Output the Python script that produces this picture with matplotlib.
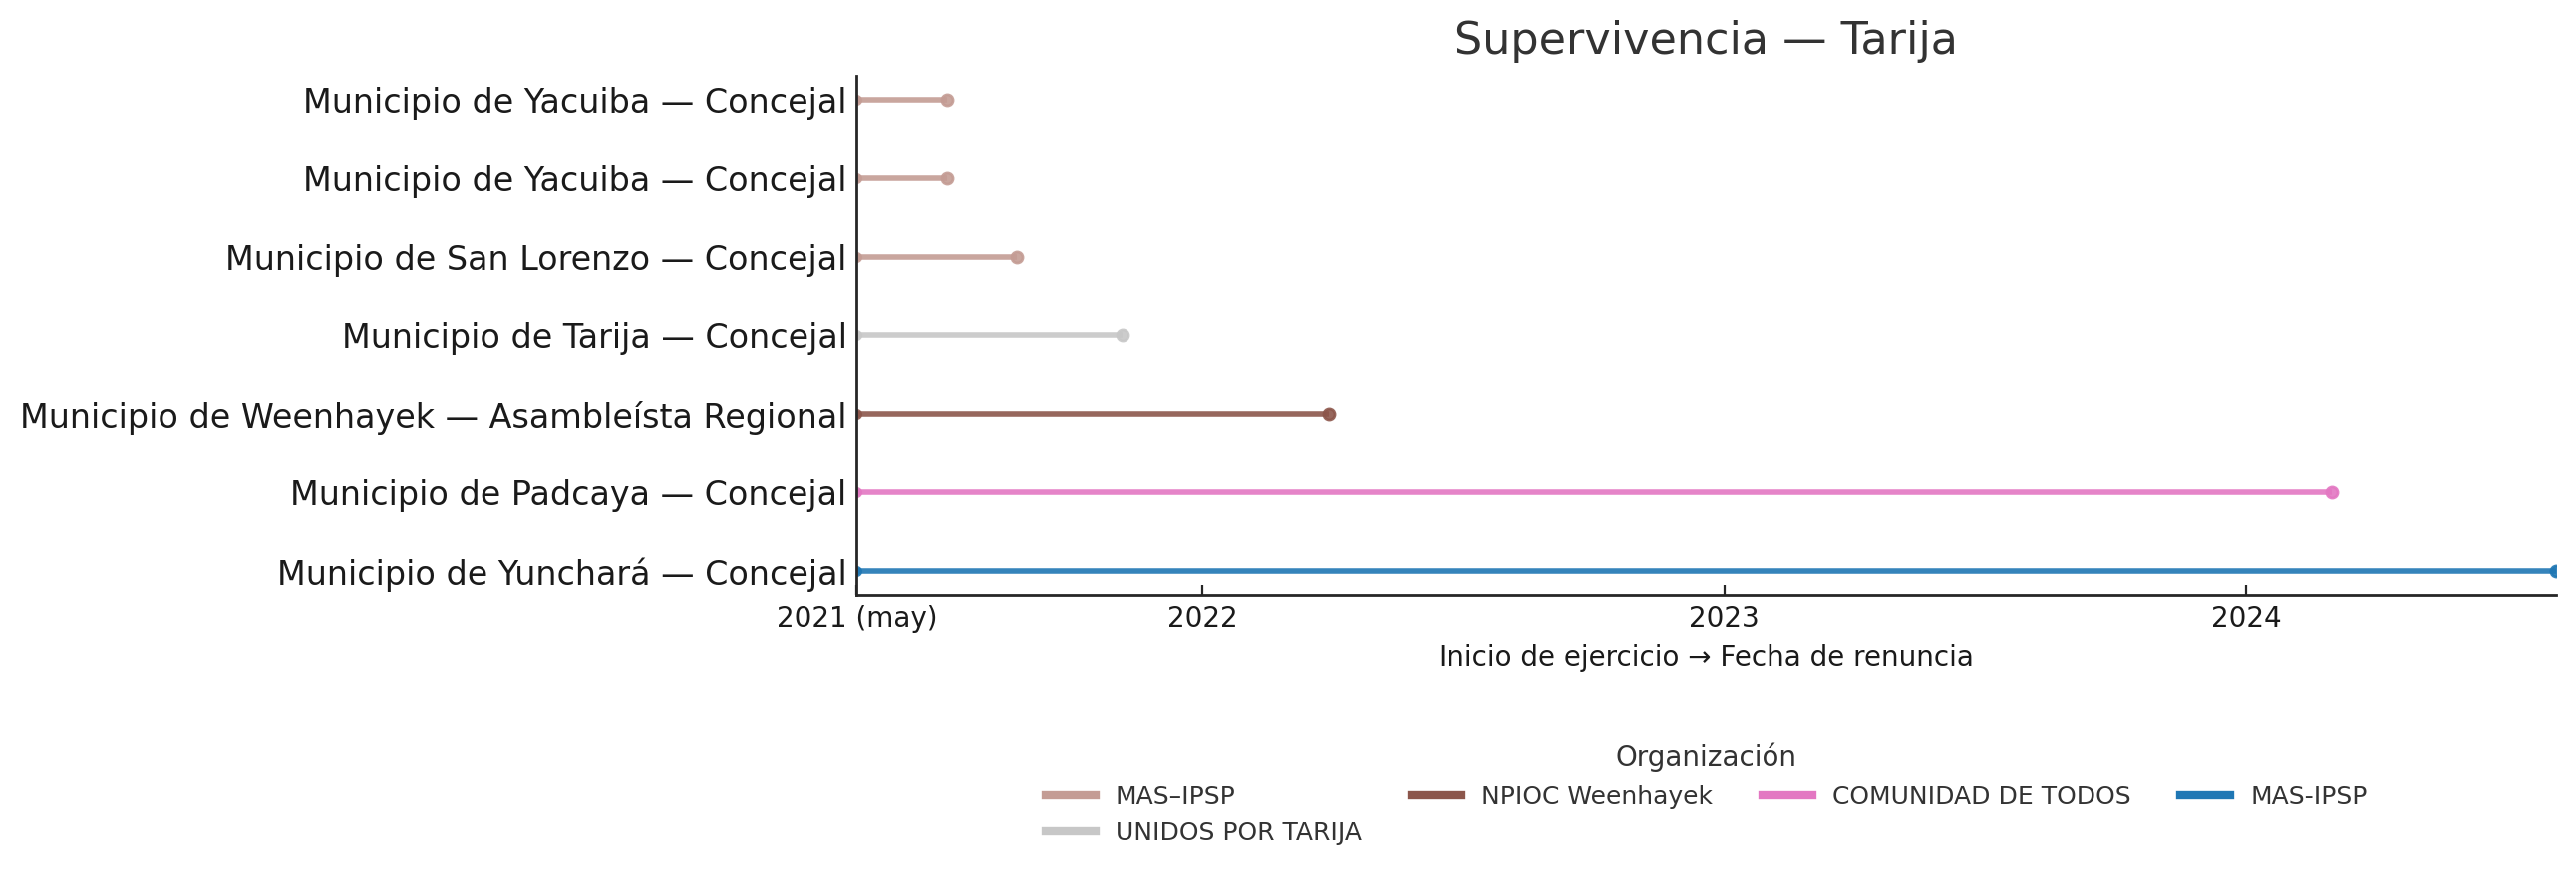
import matplotlib
matplotlib.use("Agg")
import matplotlib.pyplot as plt
from matplotlib.lines import Line2D
import pandas as pd

# filas de arriba hacia abajo
cargos = ["Municipio de Yacuiba — Concejal",
          "Municipio de Yacuiba — Concejal",
          "Municipio de San Lorenzo — Concejal",
          "Municipio de Tarija — Concejal",
          "Municipio de Weenhayek — Asambleísta Regional",
          "Municipio de Padcaya — Concejal",
          "Municipio de Yunchará — Concejal"]
organizaciones = ["MAS–IPSP", "MAS–IPSP", "MAS–IPSP", "UNIDOS POR TARIJA",
                  "NPIOC Weenhayek", "COMUNIDAD DE TODOS", "MAS-IPSP"]
inicio = ["2021-05-04"] * 7
renuncia = ["2021-07-06", "2021-07-06", "2021-08-24", "2021-11-06",
            "2022-03-30", "2024-03-01", "2024-08-05"]

COLORS = {
    "MAS–IPSP": "#c49c94",
    "UNIDOS POR TARIJA": "#c7c7c7",
    "NPIOC Weenhayek": "#8c564b",
    "COMUNIDAD DE TODOS": "#e377c2",
    "MAS-IPSP": "#1f77b4",
}

TEXT = "#262626"

if __name__ == '__main__':
    starts = pd.to_datetime(inicio)
    ends = pd.to_datetime(renuncia)
    n = len(cargos)

    fig = plt.figure(figsize=(12.92, 4.385), dpi=200)
    ax = fig.add_axes([859.3 / 2584, 1 - 597 / 877, (2564.3 - 859.3) / 2584, (597 - 76) / 877])

    for i in range(n):
        y = n - 1 - i
        c = COLORS[organizaciones[i]]
        ax.plot([starts[i], ends[i]], [y, y], color=c, lw=2, alpha=0.9, solid_capstyle="butt")
        ax.plot([starts[i]], [y], "o", color=c, ms=3, alpha=0.9)
        ax.plot([ends[i]], [y], "o", color=c, ms=4, alpha=0.9)

    ax.set_xlim(starts.min(), ends.max())
    ax.set_yticks(range(n))
    ax.set_yticklabels(cargos[::-1], fontsize=12, color="#1a1a1a")
    ax.tick_params(axis="y", length=0, pad=3.5)

    ticks = [starts.min(), pd.Timestamp("2022-01-01"), pd.Timestamp("2023-01-01"), pd.Timestamp("2024-01-01")]
    ax.set_xticks(ticks)
    ax.set_xticklabels(["2021 (may)", "2022", "2023", "2024"], fontsize=10, color="#1a1a1a")
    ax.tick_params(axis="x", direction="in", length=3.5, width=0.8, color=TEXT)

    for s in ["top", "right"]:
        ax.spines[s].set_visible(False)
    for s in ["left", "bottom"]:
        ax.spines[s].set_color(TEXT)
        ax.spines[s].set_linewidth(1.0)

    ax.set_title("Supervivencia — Tarija", fontsize=16, color="#333333", pad=8)
    ax.set_xlabel("Inicio de ejercicio → Fecha de renuncia", fontsize=10, color="#1a1a1a")

    labels = list(dict.fromkeys(organizaciones))
    handles = [Line2D([0], [0], color=COLORS[l], lw=3) for l in labels]
    leg = ax.legend(handles, labels, title="Organización", ncol=4, loc="upper center",
                    bbox_to_anchor=(0.5, -0.242), frameon=False, fontsize=9,
                    title_fontsize=10, columnspacing=2.0)
    for t in leg.get_texts():
        t.set_color("#333333")
    leg.get_title().set_color("#333333")

    fig.savefig("out.png", dpi=200)
